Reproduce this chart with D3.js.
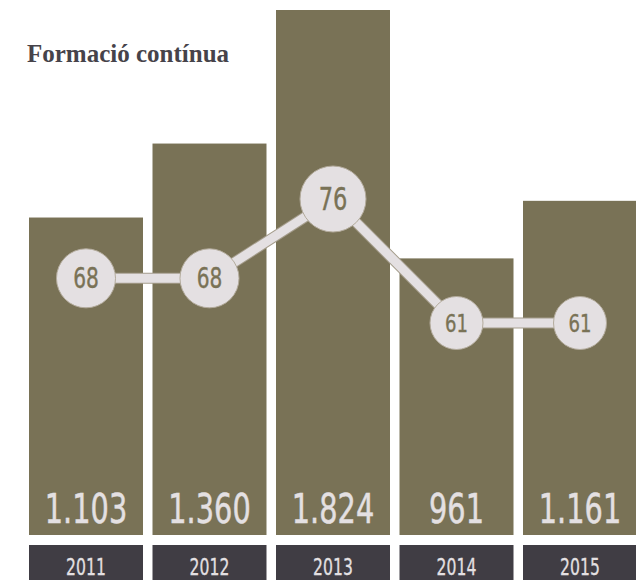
<!DOCTYPE html>
<html>
<head>
<meta charset="utf-8">
<script src="https://cdn.jsdelivr.net/npm/d3@7"></script>
<style>
  body { margin: 0; background: #fff; }
  svg { display: block; }
</style>
</head>
<body>
<svg></svg>
<script>
const [w, h] = [636, 580];

const years = ['2011', '2012', '2013', '2014', '2015'];
const totals = [1103, 1360, 1824, 961, 1161];
const rates = [68, 68, 76, 61, 61];
const title = 'Formació contínua';

const barColor = '#797256';
const lightColor = '#e4e0e2';
const darkColor = '#403d44';
const sans = '"DejaVu Sans", sans-serif';

const fmt = d3.formatLocale({decimal: ',', thousands: '.', grouping: [3], currency: ['', '€']}).format(',d');

const svg = d3.select('svg')
    .attr('width', w)
    .attr('height', h);

const xScale = d3.scaleBand()
    .domain(years)
    .range([29, 637])
    .paddingInner(0.077)
    .paddingOuter(0);

const yScale = d3.scaleLinear()
    .domain([0, d3.max(totals)])
    .range([535, 10]);

// circle position: not linear in the original, a steep power curve fits it
const rateY = d3.scalePow()
    .exponent(5)
    .domain([61, 76])
    .range([323, 199]);

const rScale = d3.scaleLinear()
    .domain([0, 76])
    .range([0, 33]);

const bars = years.map((y, i) => ({year: y, total: totals[i], rate: rates[i]}));
const cx = d => xScale(d.year) + xScale.bandwidth() / 2;

// squeezed text, the original uses a condensed face
const squeeze = (x, y, s) => `translate(${x},${y}) scale(${s},1)`;

// bars
svg.selectAll('rect.bar')
    .data(bars)
    .enter()
    .append('rect')
        .attr('class', 'bar')
        .attr('x', d => xScale(d.year))
        .attr('y', d => yScale(d.total))
        .attr('width', xScale.bandwidth())
        .attr('height', d => yScale(0) - yScale(d.total))
        .attr('fill', barColor);

// totals inside bars
svg.selectAll('text.total')
    .data(bars)
    .enter()
    .append('text')
        .attr('class', 'total')
        .attr('transform', d => squeeze(cx(d), yScale(0) - 12, 0.72))
        .attr('text-anchor', 'middle')
        .attr('fill', lightColor)
        .attr('stroke', lightColor)
        .attr('stroke-width', 0.5)
        .style('font-family', sans)
        .style('font-size', '40px')
        .text(d => fmt(d.total));

// year boxes
svg.selectAll('rect.year')
    .data(bars)
    .enter()
    .append('rect')
        .attr('class', 'year')
        .attr('x', d => xScale(d.year))
        .attr('y', 545)
        .attr('width', xScale.bandwidth())
        .attr('height', 40)
        .attr('fill', darkColor);

svg.selectAll('text.year')
    .data(bars)
    .enter()
    .append('text')
        .attr('class', 'year')
        .attr('transform', d => squeeze(cx(d), 575, 0.68))
        .attr('text-anchor', 'middle')
        .attr('fill', lightColor)
        .attr('stroke', lightColor)
        .attr('stroke-width', 0.3)
        .style('font-family', sans)
        .style('font-size', '23px')
        .text(d => d.year);

// connecting line
const line = d3.line()
    .x(cx)
    .y(d => rateY(d.rate));

svg.append('path')
    .datum(bars)
    .attr('d', line)
    .attr('fill', 'none')
    .attr('stroke', '#a59d8c')
    .attr('stroke-width', 11);

svg.append('path')
    .datum(bars)
    .attr('d', line)
    .attr('fill', 'none')
    .attr('stroke', lightColor)
    .attr('stroke-width', 9);

// circles
svg.selectAll('circle')
    .data(bars)
    .enter()
    .append('circle')
        .attr('cx', cx)
        .attr('cy', d => rateY(d.rate))
        .attr('r', d => rScale(d.rate))
        .attr('fill', lightColor)
        .attr('stroke', '#b3ab9c')
        .attr('stroke-width', 1);

svg.selectAll('text.rate')
    .data(bars)
    .enter()
    .append('text')
        .attr('class', 'rate')
        .attr('transform', d => squeeze(cx(d), rateY(d.rate), 0.72))
        .attr('dy', '0.36em')
        .attr('text-anchor', 'middle')
        .attr('fill', barColor)
        .attr('stroke', barColor)
        .attr('stroke-width', 0.4)
        .style('font-family', sans)
        .style('font-size', d => (rScale(d.rate) * 0.95) + 'px')
        .text(d => d.rate);

// title
svg.append('text')
    .attr('x', 27)
    .attr('y', 62)
    .attr('fill', '#46434a')
    .style('font-family', '"Liberation Serif", serif')
    .style('font-weight', 'bold')
    .style('font-size', '25px')
    .text(title);
</script>
</body>
</html>
